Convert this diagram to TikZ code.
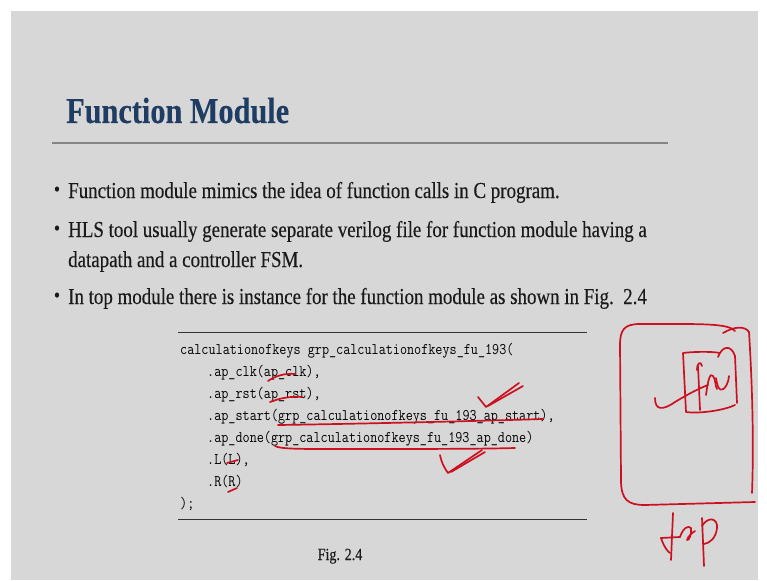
\documentclass[tikz,border=0pt]{standalone}
\usepackage{fontspec}
\setmainfont[FakeStretch=0.83,FakeBold=0.25]{Liberation Serif}
\setmonofont[FakeStretch=0.85]{Latin Modern Mono}

\definecolor{slidebg}{HTML}{D7D7D7}
\definecolor{titleblue}{HTML}{1F3D63}
\definecolor{bodytext}{HTML}{1A1A1A}
\definecolor{inkred}{HTML}{CC1020}
\definecolor{rulegray}{HTML}{858585}

\tikzset{
  txt/.style={anchor=base west, inner sep=0pt, text=bodytext,
              font=\fontsize{22.8}{26}\selectfont},
  bul/.style={anchor=base, inner sep=0pt, text=bodytext,
              font=\fontsize{21}{22}\selectfont},
  code/.style={anchor=base west, inner sep=0pt, text=black,
               font=\ttfamily\fontsize{16.2}{18}\selectfont},
  ink/.style={draw=inkred, line width=1.7pt, line cap=round, line join=round}
}

\begin{document}
\begin{tikzpicture}[x=1pt, y=-1pt]
% page and slide background
\fill[white] (0,0) rectangle (767,580);
\fill[slidebg] (11,11) rectangle (758,580);
\useasboundingbox (0,0) rectangle (767,580);

% title and its rule
\node[anchor=base west, inner sep=0pt, text=titleblue,
      font=\fontsize{36.5}{40}\selectfont\bfseries] (title) at (66,123) {Function Module};
\draw[rulegray, line width=1.3pt] (52,143) -- (668,143);

% bullet list
\node[bul] (b1) at (57,196) {\textbullet};
\node[txt] (l1) at (68,198) {Function module mimics the idea of function calls in C program.};
\node[bul] (b2) at (57,235) {\textbullet};
\node[txt] (l2) at (68,237) {HLS tool usually generate separate verilog file for function module having a};
\node[txt] (l2b) at (68,267) {datapath and a controller FSM.};
\node[bul] (b3) at (57,302) {\textbullet};
\node[txt] (l3) at (68,304) {In top module there is instance for the function module as shown in Fig.\ \ 2.4};

% code listing between two rules
\draw[black!80, line width=0.8pt] (178,332) -- (587,332);
\draw[black!80, line width=0.8pt] (178,519) -- (587,519);
\node[code] (c1) at (180,354) {calculationofkeys grp\_calculationofkeys\_fu\_193(};
\node[code] (c2) at (207,376) {.ap\_clk(ap\_clk),};
\node[code] (c3) at (207,398) {.ap\_rst(ap\_rst),};
\node[code] (c4) at (207,420) {.ap\_start(grp\_calculationofkeys\_fu\_193\_ap\_start),};
\node[code] (c5) at (207,442) {.ap\_done(grp\_calculationofkeys\_fu\_193\_ap\_done)};
\node[code] (c6) at (207,464) {.L(L),};
\node[code] (c7) at (207,486) {.R(R)};
\node[code] (c8) at (180,508) {);};

\node[anchor=base, inner sep=0pt, text=bodytext, font=\fontsize{17}{20}\selectfont]
  (cap) at (340,560) {Fig. 2.4};

% pen marks on the listing
\draw[ink] (268,381) .. controls (275,376) and (285,373) .. (295,374);
\draw[ink] (270,402) .. controls (280,398) and (292,396) .. (302,397);
\draw[ink] (478,397) -- (486,407) -- (519,383);
\draw[ink] (488,406) -- (523,386);
\draw[ink] (278,425) .. controls (350,424) and (480,421) .. (543,419);
\draw[ink] (275,446) .. controls (280,449) and (300,449) .. (330,449)
           .. controls (420,449) and (480,449) .. (515,448);
\draw[ink] (440,455) .. controls (442,465) and (446,470) .. (448,473) -- (482,450);
\draw[ink] (451,472) -- (485,452);
\draw[ink] (227,463) -- (238,460);
\draw[ink] (228,492) -- (237,488);

% sketch: outer "top" block
\draw[ink] (735,331) .. controls (728,323) and (700,324) .. (640,324)
           .. controls (624,324) and (620,330) .. (620,345) -- (621,480)
           .. controls (621,500) and (628,505) .. (645,505) -- (755,502);
\draw[ink] (723,333) .. controls (735,326) and (745,326) .. (749,332)
           .. controls (752,380) and (754,440) .. (752,493);

% sketch: inner "fn" block
\draw[ink] (720,353) .. controls (710,351) and (690,352) .. (683,353)
           -- (686,412) .. controls (700,414) and (725,410) .. (735,405);
\draw[ink] (718,357) .. controls (722,346) and (731,344) .. (735,356) -- (737,403);
% "fn"
\draw[ink] (655,398) .. controls (655,410) and (662,411) .. (675,402)
           .. controls (690,393) and (700,388) .. (708,385);
\draw[ink] (697,370) .. controls (697,362) and (701,361) .. (702,366);
\draw[ink] (698,366) -- (700,410);
\draw[ink] (706,395) .. controls (708,380) and (710,372) .. (713,376)
           .. controls (716,380) and (715,386) .. (717,389);
\draw[ink] (716,378) .. controls (718,392) and (722,392) .. (726,386)
           .. controls (728,382) and (729,379) .. (729,376);

% "top" label
\draw[ink] (673,513) -- (671,560);
\draw[ink] (661,538) -- (680,537);
\draw[ink] (661,538) .. controls (664,547) and (668,552) .. (670,553);
\draw[ink] (680,537) .. controls (683,528) and (688,525) .. (691,528)
           .. controls (692,534) and (689,541) .. (687,540)
           .. controls (688,536) and (692,533) .. (695,531);
\draw[ink] (702,518) -- (704,566);
\draw[ink] (702,526) .. controls (708,516) and (718,518) .. (717,528)
           .. controls (716,538) and (710,543) .. (704,544);
\end{tikzpicture}
\end{document}
